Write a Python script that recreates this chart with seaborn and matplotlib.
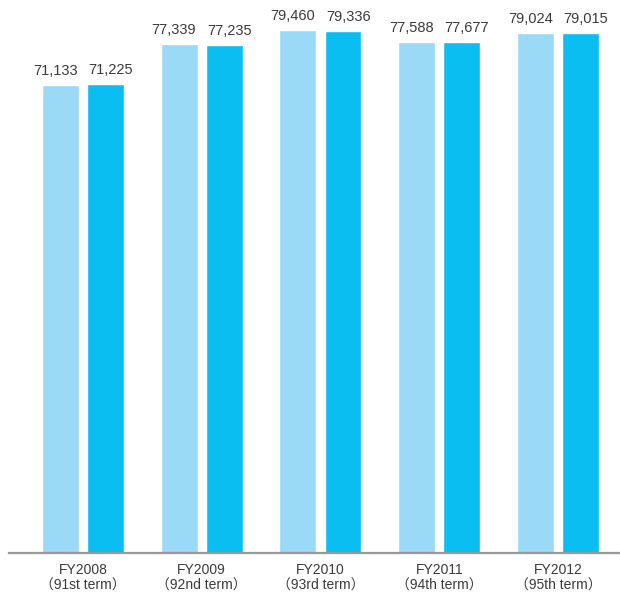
import matplotlib
matplotlib.use("Agg")
import matplotlib.pyplot as plt
import seaborn as sns
import pandas as pd

# data
periods = ['FY2008\n（91st term）', 'FY2009\n（92nd term）', 'FY2010\n（93rd term）',
           'FY2011\n（94th term）', 'FY2012\n（95th term）']
series_a = [71133, 77339, 79460, 77588, 79024]
series_b = [71225, 77235, 79336, 77677, 79015]
series_names = ['A', 'B']
colors = ['#9bdaf6', '#0abef1']

df = pd.DataFrame({
    'period': periods * 2,
    'value': series_a + series_b,
    'series': [series_names[0]] * len(periods) + [series_names[1]] * len(periods),
})

sns.set_style('white')
plt.rcParams['font.family'] = ['Liberation Sans', 'Noto Sans CJK JP', 'DejaVu Sans']

fig = plt.figure(figsize=(6.2, 5.92), dpi=100)
ax = fig.add_axes([9 / 620, 39 / 592, 611 / 620, 553 / 592])

sns.barplot(data=df, x='period', y='value', hue='series', palette=colors,
            width=0.758, gap=0.178, legend=False, ax=ax, saturation=1)

# value labels, nudged outward a little so the pair doesn't touch
for cont, dx in zip(ax.containers, [-3.8, 3.8]):
    texts = ax.bar_label(cont, labels=[f'{v:,.0f}' for v in cont.datavalues],
                         padding=5, fontsize=10.5, color='#3a3a3a')
    for t in texts:
        t.xyann = (dx, 5)

ax.set_ylim(0, 84000)
ax.set_xlim(-0.623, 4.522)
ax.set_xlabel('')
ax.set_ylabel('')
ax.set_yticks([])
ax.tick_params(axis='x', length=0, pad=7, labelsize=10, labelcolor='#3a3a3a')
for s in ['top', 'right', 'left']:
    ax.spines[s].set_visible(False)
ax.spines['bottom'].set_color('#999999')
ax.spines['bottom'].set_linewidth(1.6)

fig.savefig('out.png', dpi=100)
